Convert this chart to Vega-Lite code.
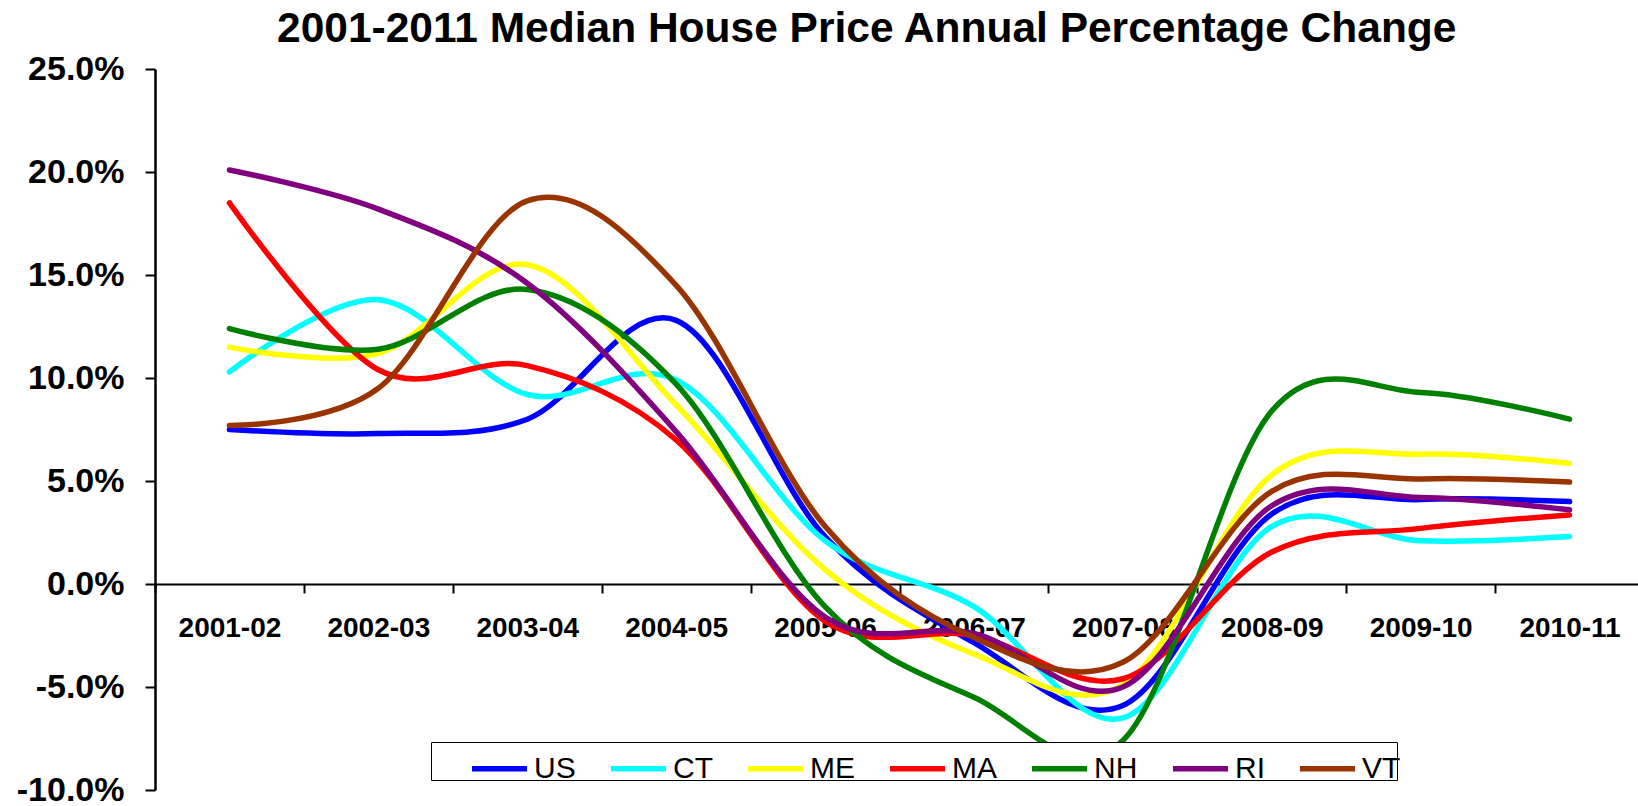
{
  "$schema": "https://vega.github.io/schema/vega-lite/v6.json",
  "autosize": {"type": "none"},
  "padding": {"left": 155, "top": 69, "right": 0, "bottom": 16},
  "width": 1483,
  "height": 721,
  "background": "white",
  "title": {
    "text": "2001-2011  Median House Price Annual Percentage Change",
    "font": "Liberation Sans",
    "fontSize": 42.5,
    "fontWeight": "bold",
    "color": "black",
    "anchor": "start",
    "frame": "group",
    "baseline": "alphabetic",
    "dx": 122,
    "dy": 33,
    "offset": 1
  },
  "data": {
    "values": [
      {"period": "2001-02", "series": "US", "value": 0.075},
      {"period": "2002-03", "series": "US", "value": 0.073},
      {"period": "2003-04", "series": "US", "value": 0.080},
      {"period": "2004-05", "series": "US", "value": 0.128},
      {"period": "2005-06", "series": "US", "value": 0.023},
      {"period": "2006-07", "series": "US", "value": -0.0285},
      {"period": "2007-08", "series": "US", "value": -0.059},
      {"period": "2008-09", "series": "US", "value": 0.034},
      {"period": "2009-10", "series": "US", "value": 0.041},
      {"period": "2010-11", "series": "US", "value": 0.040},
      {"period": "2001-02", "series": "CT", "value": 0.103},
      {"period": "2002-03", "series": "CT", "value": 0.138},
      {"period": "2003-04", "series": "CT", "value": 0.092},
      {"period": "2004-05", "series": "CT", "value": 0.099},
      {"period": "2005-06", "series": "CT", "value": 0.021},
      {"period": "2006-07", "series": "CT", "value": -0.011},
      {"period": "2007-08", "series": "CT", "value": -0.065},
      {"period": "2008-09", "series": "CT", "value": 0.028},
      {"period": "2009-10", "series": "CT", "value": 0.021},
      {"period": "2010-11", "series": "CT", "value": 0.023},
      {"period": "2001-02", "series": "ME", "value": 0.115},
      {"period": "2002-03", "series": "ME", "value": 0.112},
      {"period": "2003-04", "series": "ME", "value": 0.155},
      {"period": "2004-05", "series": "ME", "value": 0.087},
      {"period": "2005-06", "series": "ME", "value": 0.007},
      {"period": "2006-07", "series": "ME", "value": -0.034},
      {"period": "2007-08", "series": "ME", "value": -0.049},
      {"period": "2008-09", "series": "ME", "value": 0.053},
      {"period": "2009-10", "series": "ME", "value": 0.063},
      {"period": "2010-11", "series": "ME", "value": 0.0585},
      {"period": "2001-02", "series": "MA", "value": 0.185},
      {"period": "2002-03", "series": "MA", "value": 0.104},
      {"period": "2003-04", "series": "MA", "value": 0.106},
      {"period": "2004-05", "series": "MA", "value": 0.070},
      {"period": "2005-06", "series": "MA", "value": -0.018},
      {"period": "2006-07", "series": "MA", "value": -0.025},
      {"period": "2007-08", "series": "MA", "value": -0.046},
      {"period": "2008-09", "series": "MA", "value": 0.0155},
      {"period": "2009-10", "series": "MA", "value": 0.027},
      {"period": "2010-11", "series": "MA", "value": 0.0335},
      {"period": "2001-02", "series": "NH", "value": 0.124},
      {"period": "2002-03", "series": "NH", "value": 0.114},
      {"period": "2003-04", "series": "NH", "value": 0.143},
      {"period": "2004-05", "series": "NH", "value": 0.097},
      {"period": "2005-06", "series": "NH", "value": -0.011},
      {"period": "2006-07", "series": "NH", "value": -0.055},
      {"period": "2007-08", "series": "NH", "value": -0.076},
      {"period": "2008-09", "series": "NH", "value": 0.084},
      {"period": "2009-10", "series": "NH", "value": 0.093},
      {"period": "2010-11", "series": "NH", "value": 0.080},
      {"period": "2001-02", "series": "RI", "value": 0.201},
      {"period": "2002-03", "series": "RI", "value": 0.182},
      {"period": "2003-04", "series": "RI", "value": 0.146},
      {"period": "2004-05", "series": "RI", "value": 0.074},
      {"period": "2005-06", "series": "RI", "value": -0.016},
      {"period": "2006-07", "series": "RI", "value": -0.024},
      {"period": "2007-08", "series": "RI", "value": -0.050},
      {"period": "2008-09", "series": "RI", "value": 0.038},
      {"period": "2009-10", "series": "RI", "value": 0.042},
      {"period": "2010-11", "series": "RI", "value": 0.036},
      {"period": "2001-02", "series": "VT", "value": 0.077},
      {"period": "2002-03", "series": "VT", "value": 0.095},
      {"period": "2003-04", "series": "VT", "value": 0.186},
      {"period": "2004-05", "series": "VT", "value": 0.145},
      {"period": "2005-06", "series": "VT", "value": 0.028},
      {"period": "2006-07", "series": "VT", "value": -0.026},
      {"period": "2007-08", "series": "VT", "value": -0.038},
      {"period": "2008-09", "series": "VT", "value": 0.045},
      {"period": "2009-10", "series": "VT", "value": 0.051},
      {"period": "2010-11", "series": "VT", "value": 0.0495}
    ]
  },
  "mark": {"type": "line", "interpolate": "cardinal", "strokeWidth": 5.5, "strokeCap": "round"},
  "encoding": {
    "x": {
      "field": "period",
      "type": "ordinal",
      "sort": null,
      "bandPosition": 0.5,
      "scale": {"type": "band", "paddingInner": 0, "paddingOuter": 0, "range": [0, 1489]},
      "axis": {
        "title": null,
        "tickBand": "extent",
        "offset": -206,
        "domainColor": "black",
        "domainWidth": 2,
        "tickColor": "black",
        "tickWidth": 2,
        "tickSize": 9,
        "labelPadding": 21,
        "labelFont": "Liberation Sans",
        "labelFontSize": 28,
        "labelFontWeight": "bold",
        "labelColor": "black",
        "labelAngle": 0,
        "grid": false
      }
    },
    "y": {
      "field": "value",
      "type": "quantitative",
      "scale": {"domain": [-0.10, 0.25], "nice": false, "zero": false},
      "axis": {
        "title": null,
        "values": [-0.10, -0.05, 0, 0.05, 0.10, 0.15, 0.20, 0.25],
        "labelExpr": "replace(format(datum.value, '.1%'), '\u2212', '-')",
        "grid": false,
        "domainColor": "black",
        "domainWidth": 2.5,
        "tickColor": "black",
        "tickWidth": 2,
        "tickSize": 10,
        "labelPadding": 21,
        "labelFont": "Liberation Sans",
        "labelFontSize": 34,
        "labelFontWeight": "bold",
        "labelColor": "black"
      }
    },
    "color": {
      "field": "series",
      "type": "nominal",
      "scale": {
        "domain": ["US", "CT", "ME", "MA", "NH", "RI", "VT"],
        "range": ["#0000FF", "#00FFFF", "#FFFF00", "#FF0000", "#008000", "#800080", "#993300"]
      },
      "legend": {
        "title": " ",
        "titleOrient": "left",
        "titleFontSize": 1,
        "titlePadding": 42,
        "orient": "none",
        "legendX": 276,
        "legendY": 673,
        "direction": "horizontal",
        "fillColor": "white",
        "strokeColor": "black",
        "padding": -4,
        "symbolType": "stroke",
        "symbolSize": 3025,
        "symbolStrokeWidth": 5.5,
        "labelFont": "Liberation Sans",
        "labelFontSize": 30,
        "labelColor": "black",
        "labelOffset": 4,
        "columnPadding": 24
      }
    }
  },
  "config": {"view": {"stroke": null}}
}
